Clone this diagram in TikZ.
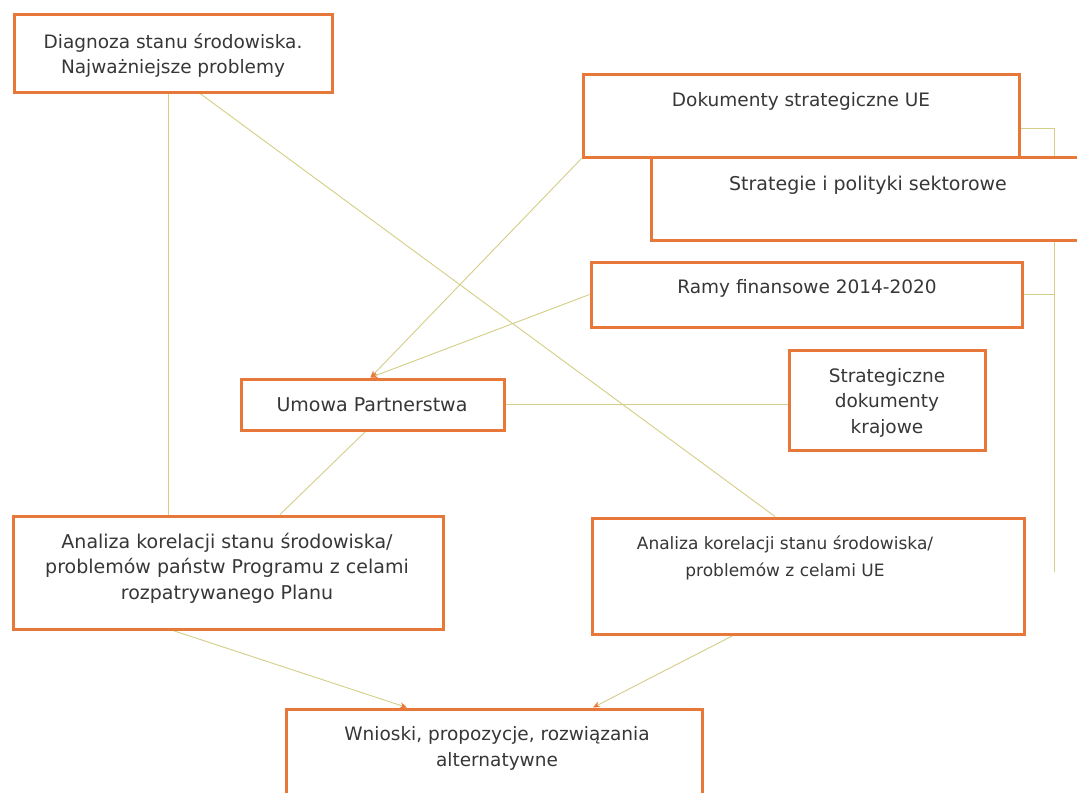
\documentclass[tikz,border=0pt]{standalone}
\usepackage{fontspec}
\setmainfont{DejaVu Sans}
\usetikzlibrary{arrows.meta}
\definecolor{boxorange}{RGB}{232,120,58}
\definecolor{conn}{RGB}{212,206,135}
\definecolor{txtgray}{RGB}{55,55,55}
\pgfdeclarelayer{paper}
\pgfdeclarelayer{lines}
\pgfsetlayers{paper,lines,main}
\begin{document}
\begin{tikzpicture}[x=1pt,y=-1pt,
  box/.style={draw=boxorange, line width=3pt, fill=white, rectangle, inner sep=0pt},
  txt/.style={text=txtgray, align=center, inner sep=0pt, font=\fontsize{18.5}{25.5}\selectfont},
  conn/.style={draw=conn, line width=0.9pt},
  arr/.style={conn, -{Stealth[length=7pt,width=6pt,color=boxorange]}}]
\begin{pgfonlayer}{paper}
\fill[white] (0,0) rectangle (1077,793);
\end{pgfonlayer}
\useasboundingbox (0,0) rectangle (1077,793);
\clip (0,0) rectangle (1077,793);
\coordinate (bb) at (1054,572);
% boxes
\path
  node[box, minimum width=318pt, minimum height=78pt] (diag) at (173,53) {}
  node[box, minimum width=436pt, minimum height=83pt] (dok) at (801,115.5) {}
  node[box, minimum width=449pt, minimum height=83pt] (strat) at (875.5,198.5) {}
  node[box, minimum width=431pt, minimum height=65pt] (ramy) at (806.5,294.5) {}
  node[box, minimum width=196pt, minimum height=100pt] (kraj) at (887,400) {}
  node[box, minimum width=263pt, minimum height=51pt] (um) at (372.5,404.5) {}
  node[box, minimum width=430pt, minimum height=113pt] (la) at (228,572.5) {}
  node[box, minimum width=432pt, minimum height=116pt] (ra) at (808,576) {}
  node[box, minimum width=416pt, minimum height=121pt] (wn) at (494,769.5) {};
% connectors
\begin{pgfonlayer}{lines}
\draw[conn] ([xshift=-5pt]diag.south) -- ([xshift=-5pt]diag.south |- la.north);
\draw[conn] ([xshift=27pt]diag.south) -- ([xshift=-33pt]ra.north);
\draw[arr] (dok.south west) -- ([xshift=-2pt]um.north);
\draw[arr] (ramy.west) -- ([xshift=-2pt]um.north);
\draw[conn] (um.east) -- (um.east -| kraj.west);
\draw[conn] ([xshift=-7pt]um.south) -- ([xshift=52pt]la.north);
\draw[arr] ([xshift=-55pt]la.south) -- ([xshift=-87pt]wn.north);
\draw[arr] ([xshift=-75pt]ra.south) -- ([xshift=99pt]wn.north);
\draw[conn] ([yshift=-12.5pt]dok.east) -| (bb);
\draw[conn] (ramy.east) -- (ramy.east -| bb);
\end{pgfonlayer}
% texts
\node[txt] (tdiag) at (173,55.5) {Diagnoza stanu środowiska.\\Najważniejsze problemy};
\node[txt] (tdok) at (801,101) {Dokumenty strategiczne UE};
\node[txt, font=\fontsize{19}{25.5}\selectfont] (tstrat) at (868,185) {Strategie i polityki sektorowe};
\node[txt] (tramy) at (807,288) {Ramy finansowe 2014-2020};
\node[txt] (tkraj) at (887,402.5) {Strategiczne\\dokumenty\\krajowe};
\node[txt, font=\fontsize{19}{25.5}\selectfont] (tum) at (372,405) {Umowa Partnerstwa};
\node[txt, font=\fontsize{19}{25.5}\selectfont] (tla) at (227,568) {Analiza korelacji stanu środowiska/\\problemów państw Programu z celami\\rozpatrywanego Planu};
\node[txt, font=\fontsize{17}{27}\selectfont] (tra) at (785,557.5) {Analiza korelacji stanu środowiska/\\problemów z celami UE};
\node[txt] (twn) at (497,748.5) {Wnioski, propozycje, rozwiązania\\alternatywne};
\end{tikzpicture}
\end{document}
